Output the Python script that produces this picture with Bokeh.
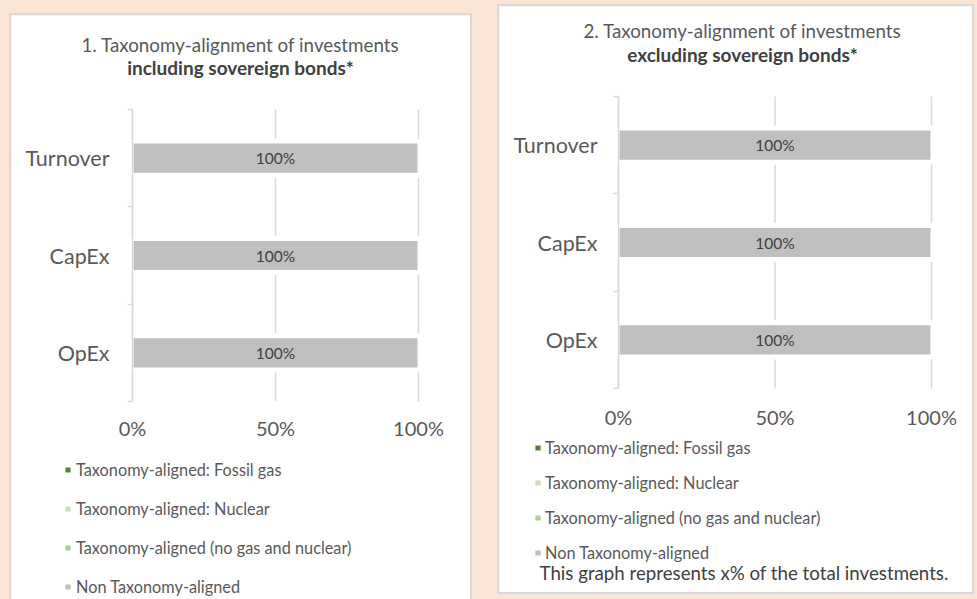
from bokeh.plotting import figure
from bokeh.models import (Range1d, FixedTicker, NumeralTickFormatter, Legend, LegendItem, Label,
                          ColumnDataSource, LinearAxis)
from bokeh.layouts import row
from bokeh.embed import file_html
from bokeh.resources import INLINE

# ---------------- data ----------------
categories = ["Turnover", "CapEx", "OpEx"]
series_names = [
    "Taxonomy-aligned: Fossil gas",
    "Taxonomy-aligned: Nuclear",
    "Taxonomy-aligned (no gas and nuclear)",
    "Non Taxonomy-aligned",
]
series_colors = ["#548235", "#c5e0b4", "#a9d18e", "#bfbfbf"]

incl_fossil_gas = [0.0, 0.0, 0.0]
incl_nuclear = [0.0, 0.0, 0.0]
incl_aligned = [0.0, 0.0, 0.0]
incl_non_aligned = [1.0, 1.0, 1.0]

excl_fossil_gas = [0.0, 0.0, 0.0]
excl_nuclear = [0.0, 0.0, 0.0]
excl_aligned = [0.0, 0.0, 0.0]
excl_non_aligned = [1.0, 1.0, 1.0]

x_ticks = [0.0, 0.5, 1.0]

title1 = ["1. Taxonomy-alignment of investments", "including sovereign bonds*"]
title2 = ["2. Taxonomy-alignment of investments", "excluding sovereign bonds*"]
footnote = "This graph represents x% of the total investments."

FONT = "Lato"
GRID = "#d9d9d9"
AXIS_TEXT = "#595959"


def build_panel(values, cw, ch, area_left, area_top, area_bottom, unit_px,
                xlab_standoff, ylab_standoff, leg_xy, leg_spacing, leg_standoff,
                titles, title_xy, note=None, note_xy=None):
    n = len(categories)
    unit_y = (area_bottom - area_top) / n
    ypos = [n - i - 0.5 for i in range(n)]
    xr = Range1d(-area_left / unit_px, (cw - area_left) / unit_px)
    yr = Range1d(-(ch - area_bottom) / unit_y, n + area_top / unit_y)
    p = figure(width=cw, height=ch, output_backend="svg", toolbar_location=None,
               x_range=xr, y_range=yr, x_axis_location=None, y_axis_location=None,
               min_border=0)
    p.background_fill_color = "white"
    p.border_fill_color = "white"
    p.outline_line_color = None
    p.xgrid.visible = False
    p.ygrid.visible = False

    # x axis (labels only) fixed at the bottom of the plotting area
    xa = LinearAxis(fixed_location=0, ticker=FixedTicker(ticks=x_ticks, minor_ticks=[]),
                    formatter=NumeralTickFormatter(format="0%"))
    xa.axis_line_color = None
    xa.major_tick_line_color = None
    xa.minor_tick_line_color = None
    xa.major_tick_out = 0
    xa.major_tick_in = 0
    xa.major_label_standoff = xlab_standoff
    xa.major_label_text_font = FONT
    xa.major_label_text_font_size = "20px"
    xa.major_label_text_color = AXIS_TEXT
    p.add_layout(xa, "below")

    # category axis at x = 0
    ya = LinearAxis(fixed_location=0, bounds=(0, n),
                    ticker=FixedTicker(ticks=ypos, minor_ticks=[float(k) for k in range(n + 1)]))
    ya.major_label_overrides = {y: c for y, c in zip(ypos, categories)}
    ya.axis_line_color = GRID
    ya.axis_line_width = 1.5
    ya.major_tick_line_color = None
    ya.major_tick_out = 0
    ya.major_tick_in = 0
    ya.minor_tick_line_color = GRID
    ya.minor_tick_line_width = 1.5
    ya.minor_tick_out = 5
    ya.minor_tick_in = 0
    ya.major_label_standoff = ylab_standoff
    ya.major_label_text_font = FONT
    ya.major_label_text_font_size = "21.5px"
    ya.major_label_text_color = AXIS_TEXT
    p.add_layout(ya, "left")

    # vertical gridlines limited to the plotting area
    p.segment(x0=x_ticks, y0=[0] * len(x_ticks), x1=x_ticks, y1=[n] * len(x_ticks),
              line_color=GRID, line_width=1.5)

    totals = [sum(v[i] for v in values) for i in range(n)]
    p.hbar(y=ypos, left=0, right=totals, height=0.34, fill_color="white",
           line_color="white", line_width=6)

    left = [0.0] * n
    renderers = []
    lab_x, lab_y, lab_t = [], [], []
    for vals, name, col in zip(values, series_names, series_colors):
        right = [l + v for l, v in zip(left, vals)]
        r = p.hbar(y=ypos, left=left, right=right, height=0.32, fill_color=col,
                   line_color="white", line_width=2)
        renderers.append(r)
        for i in range(n):
            if vals[i] > 0:
                lab_x.append((left[i] + right[i]) / 2)
                lab_y.append(ypos[i])
                lab_t.append(f"{vals[i]:.0%}")
        left = right

    src = ColumnDataSource(dict(x=lab_x, y=lab_y, t=lab_t))
    p.text(x="x", y="y", text="t", source=src, text_align="center", text_baseline="middle",
           text_font_size="15.5px", text_color="#404040", text_font={"value": FONT})

    legend = Legend(items=[LegendItem(label=nm, renderers=[r]) for nm, r in zip(series_names, renderers)],
                    location=leg_xy, orientation="vertical", border_line_color=None,
                    background_fill_alpha=0, padding=0, margin=0, spacing=leg_spacing,
                    glyph_width=9, glyph_height=9, label_height=20, label_standoff=leg_standoff,
                    label_text_font=FONT, label_text_font_size="16.3px", label_text_color=AXIS_TEXT)
    p.add_layout(legend)

    (tx, ty1, ty2) = title_xy
    p.add_layout(Label(x=tx, y=ty1, x_units="screen", y_units="screen", text=titles[0],
                       text_align="center", text_baseline="middle", text_font=FONT,
                       text_font_size="18.8px", text_color=AXIS_TEXT))
    p.add_layout(Label(x=tx, y=ty2, x_units="screen", y_units="screen", text=titles[1],
                       text_align="center", text_baseline="middle", text_font=FONT,
                       text_font_size="19px", text_font_style="bold", text_color="#404040"))
    if note is not None:
        p.add_layout(Label(x=note_xy[0], y=note_xy[1], x_units="screen", y_units="screen", text=note,
                           text_align="left", text_baseline="middle", text_font=FONT,
                           text_font_size="18.7px", text_color="#404040"))
    return p


BOX = "2px solid #d9d9d9"

# panel 1: canvas at page (11, 15), 459 x 584
p1 = build_panel([incl_fossil_gas, incl_nuclear, incl_aligned, incl_non_aligned],
                 459, 584, 121, 94, 386, 286, 14, 18,
                 (52, 3), 19, 4,
                 title1, (229, 555, 532))
p1.margin = (15, 0, 0, 11)
p1.styles = {"outline": BOX}

# panel 2: canvas at page (499, 6), 473 x 586
p2 = build_panel([excl_fossil_gas, excl_nuclear, excl_aligned, excl_non_aligned],
                 473, 586, 119, 90, 382, 313, 16, 16,
                 (34, 30), 15, 3,
                 title2, (243, 562, 538), footnote, (40, 20))
p2.margin = (6, 0, 0, 29)
p2.styles = {"outline": BOX}

p = row(p1, p2)

TEMPLATE = """
{% block preamble %}
<style>
html, body { margin: 0 !important; padding: 0 !important; background: #fbe5d6 !important; overflow: hidden; }
</style>
{% endblock %}
"""

open("out.html", "w").write(file_html(p, INLINE, template=TEMPLATE))
